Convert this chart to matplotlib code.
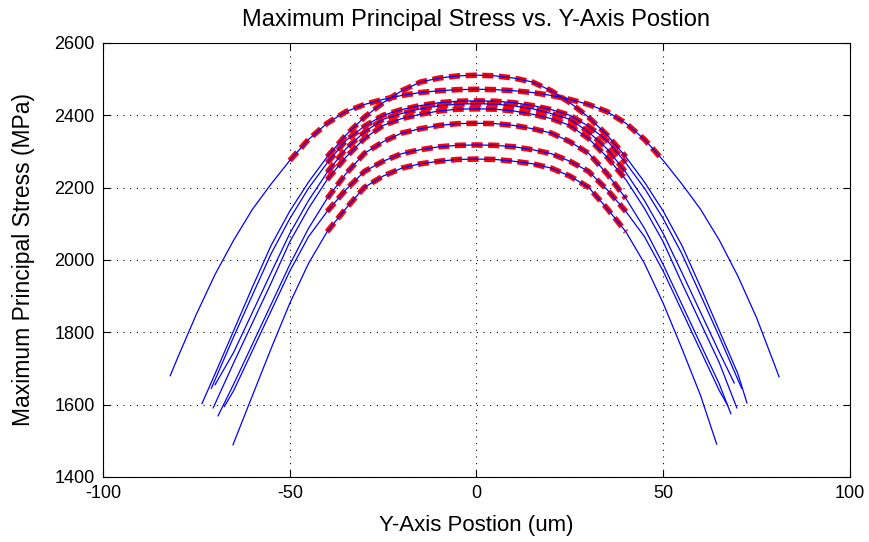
import matplotlib

matplotlib.use("Agg")
import matplotlib.pyplot as plt
import numpy as np

plt.rcParams["font.family"] = ["Liberation Sans", "DejaVu Sans"]
plt.rcParams["axes.unicode_minus"] = False

# 곡선별 데이터 (Y축 위치 um, 최대 주응력 MPa)
x_c1 = [-82, -80, -75, -70, -65, -60, -55, -50, -45, -40, -35, -30, -25, -20, -15, -10, -5, 0,
        5, 10, 15, 20, 25, 30, 35, 40, 45, 50, 55, 60, 65, 70, 75, 80, 81]
y_c1 = [1680, 1730, 1850, 1960, 2055, 2140, 2210, 2275, 2333, 2378, 2410, 2430, 2444, 2455, 2463, 2468, 2471, 2472,
        2471, 2468, 2463, 2455, 2444, 2430, 2410, 2378, 2333, 2275, 2210, 2140, 2055, 1955, 1840, 1705, 1677]

x_c2 = [-73.5, -70, -65, -60, -55, -50, -45, -40, -35, -30, -25, -20, -15, -10, -5, 0,
        5, 10, 15, 20, 25, 30, 35, 40, 45, 50, 55, 60, 65, 70, 72.4]
y_c2 = [1603, 1685, 1805, 1925, 2040, 2135, 2215, 2285, 2345, 2395, 2435, 2468, 2492, 2503, 2509, 2511,
        2509, 2503, 2492, 2468, 2435, 2395, 2345, 2285, 2215, 2135, 2040, 1925, 1805, 1685, 1605]

x_c3 = [-71, -65, -60, -55, -50, -45, -40, -35, -30, -25, -20, -15, -10, -5, 0,
        5, 10, 15, 20, 25, 30, 35, 40, 45, 50, 55, 60, 65, 71]
y_c3 = [1645, 1788, 1903, 2017, 2114, 2198, 2268, 2330, 2370, 2400, 2416, 2427, 2435, 2439, 2440,
        2439, 2435, 2427, 2416, 2400, 2370, 2330, 2268, 2198, 2114, 2017, 1903, 1788, 1645]

x_c4 = [-70, -65, -60, -55, -50, -45, -40, -35, -30, -25, -20, -15, -10, -5, 0,
        5, 10, 15, 20, 25, 30, 35, 40, 45, 50, 55, 60, 65, 69]
y_c4 = [1655, 1745, 1855, 1965, 2073, 2164, 2242, 2307, 2354, 2389, 2405, 2418, 2426, 2431, 2432,
        2431, 2426, 2418, 2405, 2389, 2354, 2307, 2242, 2164, 2073, 1965, 1855, 1745, 1660]

x_c5 = [-70.5, -65, -60, -55, -50, -45, -40, -35, -30, -25, -20, -15, -10, -5, 0,
        5, 10, 15, 20, 25, 30, 35, 40, 45, 50, 55, 60, 65, 69.7]
y_c5 = [1591, 1716, 1826, 1936, 2050, 2142, 2222, 2284, 2336, 2372, 2391, 2403, 2412, 2417, 2418,
        2417, 2412, 2403, 2391, 2372, 2336, 2284, 2222, 2142, 2050, 1936, 1826, 1716, 1591]

x_c6 = [-69.2, -65, -60, -55, -50, -45, -40, -35, -30, -25, -20, -15, -10, -5, 0,
        5, 10, 15, 20, 25, 30, 35, 40, 45, 50, 55, 60, 65, 68.1]
y_c6 = [1569, 1657, 1767, 1877, 1987, 2087, 2170, 2238, 2295, 2327, 2351, 2363, 2372, 2377, 2378,
        2377, 2372, 2363, 2351, 2327, 2295, 2238, 2170, 2087, 1987, 1877, 1767, 1657, 1575]

x_c7 = [-67.5, -65, -60, -55, -50, -45, -40, -35, -30, -25, -20, -15, -10, -5, 0,
        5, 10, 15, 20, 25, 30, 35, 40, 45, 50, 55, 60, 65, 67.3]
y_c7 = [1595, 1639, 1749, 1859, 1969, 2064, 2134, 2194, 2245, 2273, 2294, 2305, 2313, 2317, 2318,
        2317, 2313, 2305, 2294, 2273, 2245, 2194, 2134, 2064, 1969, 1859, 1749, 1639, 1597]

x_c8 = [-65.2, -60, -55, -50, -45, -40, -35, -30, -25, -20, -15, -10, -5, 0,
        5, 10, 15, 20, 25, 30, 35, 40, 45, 50, 55, 60, 64.3]
y_c8 = [1489, 1625, 1755, 1880, 1990, 2078, 2142, 2201, 2232, 2254, 2266, 2273, 2278, 2279,
        2278, 2273, 2266, 2254, 2232, 2201, 2142, 2078, 1990, 1880, 1755, 1625, 1491]

curves = [(x_c1, y_c1), (x_c2, y_c2), (x_c3, y_c3), (x_c4, y_c4),
          (x_c5, y_c5), (x_c6, y_c6), (x_c7, y_c7), (x_c8, y_c8)]
# 빨간 점선 구간 (|x| 한계)
red_lim = [50, 40, 40, 40, 40, 40, 40, 40]

fig = plt.figure(figsize=(8.7, 5.42), dpi=100)
ax = fig.add_axes([0.1184, 0.12, 0.8586, 0.8007])

for (xs, ys), lim in zip(curves, red_lim):
    xs = np.array(xs)
    ys = np.array(ys)
    m = np.abs(xs) <= lim
    ax.plot(xs[m], ys[m], color="#ff0000", linewidth=4.0,
            linestyle=(0, (2.0, 1.0)), zorder=2)
    ax.plot(xs, ys, color="#0000ff", linewidth=0.9, zorder=3)

ax.set_xlim(-100, 100)
ax.set_ylim(1400, 2600)
ax.set_xticks([-100, -50, 0, 50, 100])
ax.set_yticks(np.arange(1400, 2601, 200))
ax.grid(True, color="black", linestyle=(0, (1, 5)), linewidth=0.8)
ax.tick_params(direction="in", top=True, right=True, length=5, labelsize=13, width=0.8, pad=6)
for s in ax.spines.values():
    s.set_linewidth(0.8)

ax.set_title("Maximum Principal Stress vs. Y-Axis Postion", fontsize=17, pad=12)
ax.set_xlabel("Y-Axis Postion (um)", fontsize=16, labelpad=9)
ax.set_ylabel("Maximum Principal Stress (MPa)", fontsize=16.5, labelpad=14)

fig.savefig("out.png", dpi=100)
